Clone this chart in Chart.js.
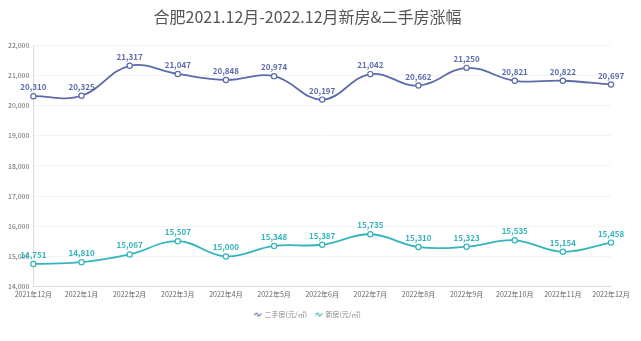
<!DOCTYPE html>
<html>
<head>
<meta charset="utf-8">
<script src="https://cdn.jsdelivr.net/npm/chart.js@4"></script>
<style>
  html, body { margin: 0; padding: 0; background: #fff; }
  #box { width: 641px; height: 341px; }
</style>
</head>
<body>
<div id="box"><canvas id="grafico" width="641" height="341"></canvas></div>
<script>
// meses y precios (元/㎡)
var meses = ['2021年12月', '2022年1月', '2022年2月', '2022年3月', '2022年4月', '2022年5月', '2022年6月',
	'2022年7月', '2022年8月', '2022年9月', '2022年10月', '2022年11月', '2022年12月'];
var ershoufang = [20310, 20325, 21317, 21047, 20848, 20974, 20197, 21042, 20662, 21250, 20821, 20822, 20697];
var xinfang = [14751, 14810, 15067, 15507, 15000, 15348, 15387, 15735, 15310, 15323, 15535, 15154, 15458];
var yTicks = [14000, 15000, 16000, 17000, 18000, 19000, 20000, 21000, 22000];

var fuente = '"Noto Sans CJK SC", "Noto Sans", sans-serif';

// icono ondulado para la leyenda
function onda(color) {
	var c = document.createElement('canvas');
	c.width = 8;
	c.height = 5;
	var g = c.getContext('2d');
	g.strokeStyle = color;
	g.lineWidth = 1.1;
	g.beginPath();
	g.moveTo(0.5, 3.5);
	g.bezierCurveTo(2.5, 0, 4, 0.5, 4, 2.5);
	g.bezierCurveTo(4, 4.5, 5.5, 5, 7.5, 1.5);
	g.stroke();
	return c;
}

// etiquetas de valor encima de cada punto
var etiquetas = {
	id: 'etiquetas',
	afterDatasetsDraw: function (chart) {
		var ctx = chart.ctx;
		ctx.save();
		ctx.font = '600 8px ' + fuente;
		ctx.textAlign = 'center';
		ctx.textBaseline = 'bottom';
		chart.data.datasets.forEach(function (ds, i) {
			var meta = chart.getDatasetMeta(i);
			ctx.fillStyle = ds.borderColor;
			meta.data.forEach(function (p, j) {
				ctx.fillText(ds.data[j].toLocaleString('en-US'), p.x, p.y - 5);
			});
		});
		ctx.restore();
	}
};

var contexto = document.getElementById('grafico').getContext('2d');

var data = {
	labels: meses,
	datasets: [{
		label: '二手房(元/㎡)',
		data: ershoufang,
		borderColor: '#5b6bab',
		backgroundColor: '#5b6bab',
		borderWidth: 1.8,
		pointRadius: 2.6,
		pointBackgroundColor: '#fff',
		pointBorderWidth: 1.2,
		pointStyle: 'circle',
		tension: 0.4,
		fill: false
	}, {
		label: '新房(元/㎡)',
		data: xinfang,
		borderColor: '#33b5ba',
		backgroundColor: '#33b5ba',
		borderWidth: 1.8,
		pointRadius: 2.6,
		pointBackgroundColor: '#fff',
		pointBorderWidth: 1.2,
		pointStyle: 'circle',
		tension: 0.4,
		fill: false
	}]
};

var grafico = new Chart(contexto, {
	type: 'line',
	data: data,
	plugins: [etiquetas],
	options: {
		responsive: false,
		animation: false,
		layout: { padding: { left: 4, right: 30, top: 1, bottom: 13 } },
		plugins: {
			title: {
				display: true,
				text: '合肥2021.12月-2022.12月新房&二手房涨幅',
				color: '#555',
				font: { family: fuente, size: 16, weight: 'normal' },
				padding: { top: 6, bottom: 19 }
			},
			legend: {
				position: 'bottom',
				labels: {
					usePointStyle: true,
					boxWidth: 8,
					boxHeight: 5,
					padding: 8,
					color: '#888',
					font: { family: fuente, size: 7 },
					generateLabels: function (chart) {
						return chart.data.datasets.map(function (ds, i) {
							return {
								text: ds.label,
								pointStyle: onda(ds.borderColor),
								fontColor: '#888',
								lineWidth: 0,
								strokeStyle: 'transparent',
								fillStyle: 'transparent',
								datasetIndex: i
							};
						});
					}
				}
			},
			tooltip: { enabled: false }
		},
		scales: {
			x: {
				offset: false,
				grid: { display: false, drawTicks: false },
				border: { color: '#ddd' },
				ticks: {
					color: '#666',
					font: { family: fuente, size: 7 },
					maxRotation: 0,
					autoSkip: false,
					padding: 4
				}
			},
			y: {
				min: 14000,
				max: 22000,
				afterBuildTicks: function (axis) {
					axis.ticks = yTicks.map(function (v) { return { value: v }; });
				},
				grid: { color: '#f3f3f3', drawTicks: false },
				border: { color: '#ddd' },
				ticks: {
					color: '#666',
					font: { family: fuente, size: 7 },
					padding: 4,
					callback: function (v) { return v.toLocaleString('en-US'); }
				}
			}
		}
	}
});
</script>
</body>
</html>
